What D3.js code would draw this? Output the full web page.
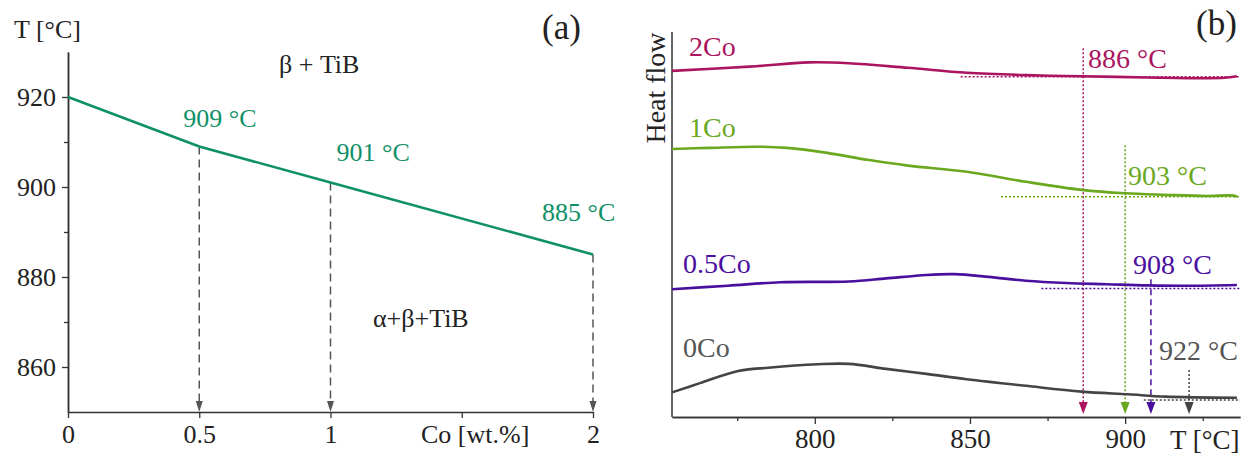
<!DOCTYPE html>
<html>
<head>
<meta charset="utf-8">
<script src="https://cdn.jsdelivr.net/npm/d3@7"></script>
<style>
  body { margin: 0; background: #fff; }
  svg text { font-family: "Liberation Serif", "Times New Roman", Times, "DejaVu Serif", serif; }
</style>
</head>
<body>
<svg id="chart" width="1253" height="455"></svg>
<script>
// ---- panel (a): beta transus vs Co content
const coContent = [0, 0.5, 1, 2];
const betaTransus = [920, 909, 901, 885];
const transusLabels = ["909 °C", "901 °C", "885 °C"];
const coTicks = [0, 0.5, 1, 1.5, 2];
const tTicksA = [860, 880, 900, 920];
const tMinorA = [870, 890, 910];

// ---- panel (b): DSC heating curves (heat flow in arbitrary units)
const seriesNames = ["2Co", "1Co", "0.5Co", "0Co"];
const temp2Co = [754, 779, 798, 811, 830, 849, 868, 886, 907, 926, 932, 936];
const flow2Co = [8.99, 9.10, 9.21, 9.19, 9.07, 8.94, 8.88, 8.85, 8.82, 8.80, 8.81, 8.85];
const temp1Co = [754, 766, 782, 791, 804, 817, 830, 849, 868, 886, 900, 913, 926, 935, 936];
const flow1Co = [6.96, 6.99, 7.02, 6.99, 6.86, 6.68, 6.53, 6.37, 6.11, 5.90, 5.81, 5.77, 5.74, 5.75, 5.72];
const temp05Co = [754, 772, 789, 811, 823, 836, 845, 856, 868, 881, 894, 907, 920, 936];
const flow05Co = [3.32, 3.41, 3.50, 3.52, 3.60, 3.69, 3.71, 3.64, 3.54, 3.48, 3.45, 3.42, 3.41, 3.43];
const temp0Co = [754, 763, 775, 785, 801, 811, 823, 836, 849, 868, 886, 901, 913, 936];
const flow0Co = [0.64, 0.88, 1.19, 1.28, 1.37, 1.38, 1.25, 1.12, 0.98, 0.81, 0.66, 0.59, 0.53, 0.50];

const onsetLabels = ["886 °C", "903 °C", "908 °C", "922 °C"];
const onsetArrowT = [886.5, 900, 908.3, 920.6];
const onsetTop = [9.58, 7.06, 3.58, 1.22];
const baselineStartT = [847, 860, 873, 906];
const baselineLevel = [8.84, 5.72, 3.34, 0.44];
const tTicksB = [800, 850, 900];
const tMinorB = [775, 825, 875, 925];

const colorsB = ["#ab1560", "#6aa81f", "#4a0f9e", "#444444"];
const textColorsB = ["#ab1560", "#6aa81f", "#4a0f9e", "#555555"];
const dashB = ["2,2", "2,2", "6,4", "2,2"];
const greenA = "#0f9167";
const ink = "#222";
const serif = '"Liberation Serif", "Times New Roman", Times, serif';

const svg = d3.select("#chart");

function addText(g, x, y, size, fill, str) {
  return g.append("text").attr("x", x).attr("y", y)
    .style("font-family", serif).style("font-size", size + "px")
    .attr("fill", fill).text(str);
}

function styleAxis(g, size) {
  g.attr("font-family", null).attr("font-size", null);
  g.selectAll("path.domain").attr("stroke", "#333").attr("stroke-width", 1.5);
  g.selectAll(".tick line").attr("stroke", "#333").attr("stroke-width", 1.3);
  g.selectAll(".tick text").attr("fill", ink).style("font-size", size + "px")
    .style("font-family", serif);
}

// ================= panel (a) =================
const xA = d3.scaleLinear().domain([0, 2]).range([68, 593]);
const yA = d3.scaleLinear().domain([850, 930]).range([412, 52]);
const gA = svg.append("g");

gA.append("g")
  .attr("transform", `translate(${xA(0)},0)`)
  .call(d3.axisLeft(yA).tickValues(tMinorA).tickFormat("").tickSize(4).tickSizeOuter(0))
  .call(g => styleAxis(g, 26));
gA.append("g")
  .attr("transform", `translate(${xA(0)},0)`)
  .call(d3.axisLeft(yA).tickValues(tTicksA).tickSize(6).tickSizeOuter(0).tickPadding(6))
  .call(g => styleAxis(g, 26));
gA.append("g")
  .attr("transform", `translate(0,${yA(850)})`)
  .call(d3.axisBottom(xA).tickValues(coTicks).tickSize(6).tickSizeOuter(0).tickPadding(7)
    .tickFormat(d => d === 1.5 ? "" : d))
  .call(g => styleAxis(g, 26));

// dashed drop lines with arrows
coContent.forEach((c, i) => {
  if (i === 0) return;
  gA.append("line")
    .attr("x1", xA(c)).attr("x2", xA(c))
    .attr("y1", yA(betaTransus[i])).attr("y2", yA(850) - 8)
    .attr("stroke", "#555").attr("stroke-width", 1.5)
    .attr("stroke-dasharray", "8,5");
  const tx = xA(c), ty = yA(850);
  gA.append("path")
    .attr("d", `M${tx},${ty} L${tx - 3.5},${ty - 11} L${tx + 3.5},${ty - 11} Z`)
    .attr("fill", "#555");
});

gA.append("path")
  .datum(coContent.map((c, i) => [c, betaTransus[i]]))
  .attr("fill", "none").attr("stroke", greenA).attr("stroke-width", 2.6)
  .attr("d", d3.line().x(d => xA(d[0])).y(d => yA(d[1])));

const labelOffA = [[-16, -20], [6, -22], [-51, -34]];
transusLabels.forEach((t, i) => {
  addText(gA, xA(coContent[i + 1]) + labelOffA[i][0], yA(betaTransus[i + 1]) + labelOffA[i][1], 26, greenA, t);
});

addText(gA, 14, 38, 26, ink, "T [°C]");
addText(gA, 542, 39, 35, ink, "(a)");
addText(gA, 279, 73, 26, ink, "β + TiB");
addText(gA, 373, 327, 26, ink, "α+β+TiB");
addText(gA, 421, 443, 26, ink, "Co [wt.%]");

// ================= panel (b) =================
const xB = d3.scaleLinear().domain([754, 937]).range([672, 1240]);
const yB = d3.scaleLinear().domain([0, 10]).range([417, 32]);
const gB = svg.append("g");

gB.append("line")
  .attr("x1", xB(754)).attr("x2", xB(754)).attr("y1", yB(10)).attr("y2", yB(0))
  .attr("stroke", "#333").attr("stroke-width", 1.5);
gB.append("g")
  .attr("transform", `translate(0,${yB(0)})`)
  .call(d3.axisBottom(xB).tickValues(tMinorB).tickFormat("").tickSize(4).tickSizeOuter(0))
  .call(g => styleAxis(g, 27));
gB.append("g")
  .attr("transform", `translate(0,${yB(0)})`)
  .call(d3.axisBottom(xB).tickValues(tTicksB).tickSize(7).tickSizeOuter(0).tickPadding(5))
  .call(g => styleAxis(g, 27));

const temps = [temp2Co, temp1Co, temp05Co, temp0Co];
const flows = [flow2Co, flow1Co, flow05Co, flow0Co];
const lineB = d3.line().x(d => xB(d[0])).y(d => yB(d[1])).curve(d3.curveCatmullRom);

seriesNames.forEach((name, i) => {
  const col = colorsB[i];
  // baseline tangent
  gB.append("line")
    .attr("x1", xB(baselineStartT[i])).attr("x2", xB(937))
    .attr("y1", yB(baselineLevel[i])).attr("y2", yB(baselineLevel[i]))
    .attr("stroke", col).attr("stroke-width", 1.5).attr("stroke-dasharray", "2,2");
  // onset drop line
  const ax = xB(onsetArrowT[i]), tipY = yB(0) - 3;
  gB.append("line")
    .attr("x1", ax).attr("x2", ax)
    .attr("y1", yB(onsetTop[i])).attr("y2", tipY - 9)
    .attr("stroke", col).attr("stroke-width", 1.5).attr("stroke-dasharray", dashB[i]);
  gB.append("path")
    .attr("d", `M${ax},${tipY} L${ax - 4.5},${tipY - 12} L${ax + 4.5},${tipY - 12} Z`)
    .attr("fill", col);
  // DSC curve
  gB.append("path")
    .datum(temps[i].map((t, j) => [t, flows[i][j]]))
    .attr("fill", "none").attr("stroke", col).attr("stroke-width", 2.6)
    .attr("d", lineB);
});

const nameXY = [[689, 56], [689, 137], [683, 273], [683, 357]];
seriesNames.forEach((name, i) => {
  addText(gB, nameXY[i][0], nameXY[i][1], 28, textColorsB[i], name);
});
const onsetXY = [[1088, 68], [1128, 185], [1133, 274], [1159, 360]];
onsetLabels.forEach((t, i) => {
  addText(gB, onsetXY[i][0], onsetXY[i][1], 28, textColorsB[i], t);
});

addText(gB, 0, 0, 28, ink, "Heat flow")
  .attr("transform", "translate(665,88) rotate(-90)")
  .attr("text-anchor", "middle");
addText(gB, 1196, 35, 35, ink, "(b)");
addText(gB, 1170, 449, 27, ink, "T [°C]");
</script>
</body>
</html>
